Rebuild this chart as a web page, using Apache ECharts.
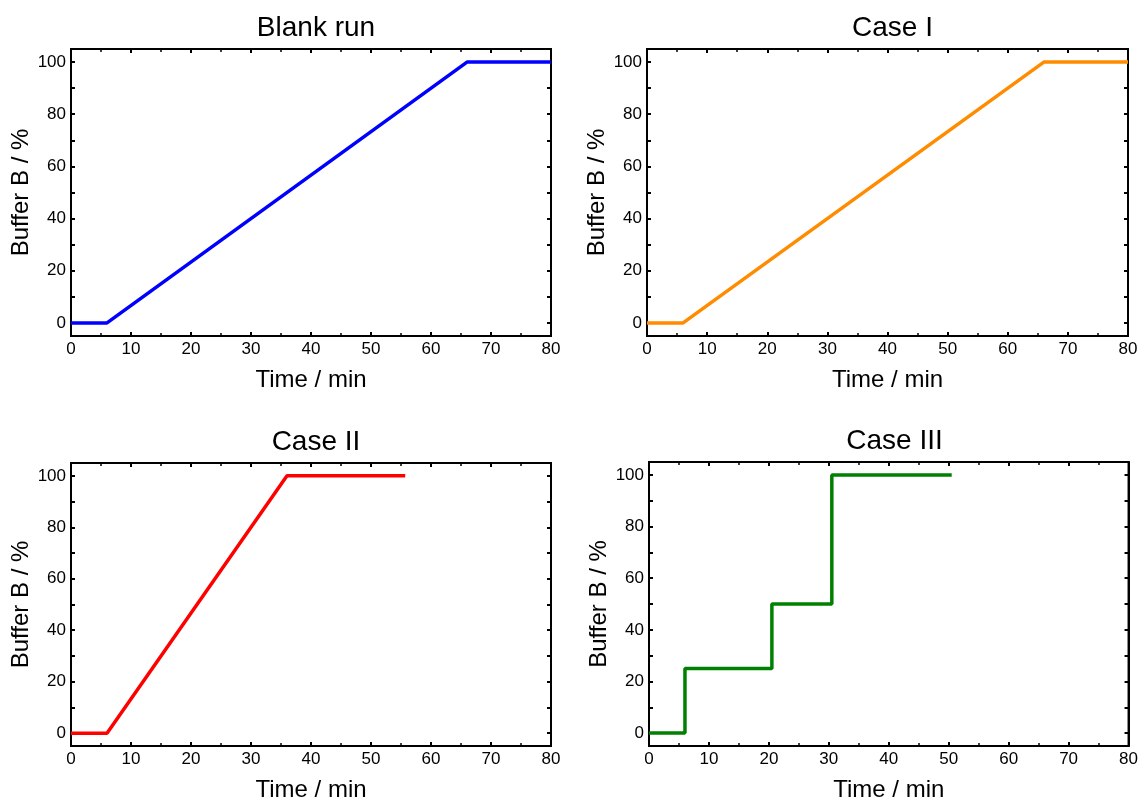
<!DOCTYPE html>
<html>
<head>
<meta charset="utf-8">
<script src="https://cdn.jsdelivr.net/npm/echarts@6/dist/echarts.min.js"></script>
<style>
  html, body { margin: 0; padding: 0; background: #fff; }
  #chart { width: 1141px; height: 803px; }
</style>
</head>
<body>
<div id="chart"></div>
<script>
// panel titles and colours
var titles = ['Blank run', 'Case I', 'Case II', 'Case III'];
var colors = ['#0000ff', '#ff8c00', '#ff0000', '#008000'];

// gradient programs (time in min, buffer B in %)
var blankX = [0, 6, 66, 80];
var blankY = [0, 0, 100, 100];
var case1X = [0, 6, 66, 80];
var case1Y = [0, 0, 100, 100];
var case2X = [0, 6, 36, 55.7];
var case2Y = [0, 0, 100, 100];
var case3X = [0, 6, 6, 20.5, 20.5, 30.5, 30.5, 50.5];
var case3Y = [0, 0, 25, 25, 50, 50, 100, 100];

var yLabels = [0, 20, 40, 60, 80, 100];
var yTicks = [0, 10, 20, 30, 40, 50, 60, 70, 80, 90, 100];

var allX = [blankX, case1X, case2X, case3X];
var allY = [blankY, case1Y, case2Y, case3Y];

// plot boxes
var boxes = [
  { left: 71, top: 49, width: 480, height: 287 },
  { left: 647, top: 49, width: 481, height: 287 },
  { left: 71, top: 463, width: 480, height: 287 },
  { left: 649, top: 462, width: 481, height: 287 }
];

var font = 'Liberation Sans, Arial, sans-serif';
var chart = echarts.init(document.getElementById('chart'));

var grid = [], xAxis = [], yAxis = [], series = [], title = [];

boxes.forEach(function (b, i) {
  grid.push({
    left: b.left, top: b.top, width: b.width, height: b.height,
    show: true, borderColor: '#000', borderWidth: 2, backgroundColor: '#fff'
  });
  title.push({
    text: titles[i],
    left: b.left + b.width / 2,
    top: b.top - 40,
    textAlign: 'center',
    textStyle: { fontFamily: font, fontSize: 28, fontWeight: 'normal', color: '#000' }
  });
  // bottom and top x axes
  ['bottom', 'top'].forEach(function (pos) {
    var main = pos === 'bottom';
    xAxis.push({
      gridIndex: i, type: 'value', position: pos,
      min: 0, max: 80, interval: 10,
      name: main ? 'Time / min' : '', nameLocation: 'middle', nameGap: 32,
      nameTextStyle: { fontFamily: font, fontSize: 24, color: '#000' },
      axisLine: { show: true, onZero: false, lineStyle: { color: '#000', width: 2 } },
      axisTick: { show: true, inside: true, length: 4, lineStyle: { color: '#000', width: 2 } },
      minorTick: { show: true, splitNumber: 2, length: 3, lineStyle: { color: '#000', width: 1.5 } },
      axisLabel: { show: main, margin: 5, fontFamily: font, fontSize: 17, color: '#000',
        showMinLabel: true, showMaxLabel: true },
      splitLine: { show: false }
    });
  });
  // left and right y axes
  ['left', 'right'].forEach(function (pos) {
    var main = pos === 'left';
    yAxis.push({
      gridIndex: i, type: 'value', position: pos,
      min: -5, max: 105,
      name: main ? 'Buffer B / %' : '', nameLocation: 'middle', nameGap: 33,
      nameTextStyle: { fontFamily: font, fontSize: 24, color: '#000' },
      axisLine: { show: true, onZero: false, lineStyle: { color: '#000', width: 2 } },
      axisTick: { show: true, inside: true, length: 4, customValues: yTicks,
        lineStyle: { color: '#000', width: 2 } },
      axisLabel: { show: main, margin: 5, fontFamily: font, fontSize: 17, color: '#000',
        customValues: yLabels },
      splitLine: { show: false }
    });
  });
  var pts = allX[i].map(function (x, k) { return [x, allY[i][k]]; });
  series.push({
    type: 'line',
    xAxisIndex: i * 2, yAxisIndex: i * 2,
    data: pts,
    showSymbol: false,
    symbol: 'none',
    lineStyle: { color: colors[i], width: 3.5 },
    itemStyle: { color: colors[i] },
    animation: false
  });
});

chart.setOption({
  animation: false,
  backgroundColor: '#fff',
  title: title,
  grid: grid,
  xAxis: xAxis,
  yAxis: yAxis,
  series: series
});
</script>
</body>
</html>
